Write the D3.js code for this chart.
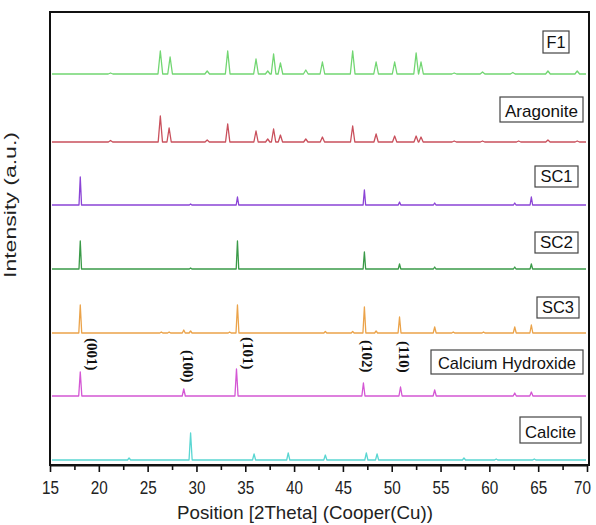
<!DOCTYPE html>
<html>
<head>
<meta charset="utf-8">
<title>XRD patterns</title>
<script src="https://d3js.org/d3.v7.min.js"></script>
<style>
  body { margin: 0; background: #fff; }
  svg text { font-family: "Liberation Sans", Arial, sans-serif; }
  .hkl { font-family: "Liberation Serif", "Times New Roman", serif !important; font-weight: bold; }
</style>
</head>
<body>
<div id="chart"></div>
<script>
// ---------------- data ----------------
// names, top to bottom
const patternNames = ["F1", "Aragonite", "SC1", "SC2", "SC3", "Calcium Hydroxide", "Calcite"];
// vertical offset of each pattern (a.u.)
const patternOffsets = [391, 323, 260, 196, 132, 69, 5];
// peaks: [2theta, intensity]
const peaksF1 = [[21.2, 1], [26.3, 23], [27.3, 17], [31.1, 3], [33.2, 23], [36.1, 15], [37.3, 3], [37.9, 20],
  [38.6, 11], [41.2, 4], [42.9, 12], [46.0, 23], [48.4, 12], [50.3, 12], [52.5, 21], [53.0, 12],
  [56.4, 1], [59.3, 2], [62.4, 1.5], [66.0, 3], [69.0, 3]];
const peaksAragonite = [[21.2, 1.5], [26.3, 26], [27.2, 14], [31.1, 2], [33.2, 18], [36.1, 11], [37.3, 3],
  [37.9, 13], [38.6, 7], [41.2, 3], [42.9, 5], [46.0, 16], [48.4, 8], [50.3, 6], [52.5, 6], [53.0, 5],
  [56.4, 1], [59.3, 1], [63.0, 1], [66.0, 2], [69.0, 1]];
const peaksSC1 = [[18.1, 28], [29.4, 1], [34.2, 8], [47.2, 15], [50.8, 3], [54.4, 2], [62.6, 2], [64.3, 8]];
const peaksSC2 = [[18.1, 28], [29.4, 1], [34.2, 28], [47.2, 17], [50.8, 5], [54.4, 2], [62.6, 2], [64.3, 5]];
const peaksSC3 = [[18.1, 28], [26.4, 1], [27.2, 1], [28.7, 3], [29.4, 2], [33.4, 1], [34.2, 28], [43.2, 1.5],
  [46.0, 1.5], [47.2, 26], [48.4, 2], [50.8, 16], [54.4, 6], [56.3, 1], [59.4, 1], [62.6, 6], [64.3, 8]];
const peaksCH = [[18.1, 24], [28.7, 7], [34.1, 27], [47.1, 13], [50.9, 9], [54.4, 6], [62.6, 3], [64.3, 4]];
const peaksCalcite = [[23.1, 2], [29.4, 27], [35.9, 6], [39.4, 7], [43.2, 5], [47.4, 7], [48.5, 6],
  [57.4, 2], [60.7, 1], [64.6, 1]];
const allPeaks = [peaksF1, peaksAragonite, peaksSC1, peaksSC2, peaksSC3, peaksCH, peaksCalcite];

// Miller indices on the calcium hydroxide pattern
const hklLabels = ["(001)", "(100)", "(101)", "(102)", "(110)"];
const hklAngles = [18.1, 28.7, 34.1, 47.1, 50.8];

const xTickValues = [15, 20, 25, 30, 35, 40, 45, 50, 55, 60, 65, 70];
const xMinorTicks = [17.5, 22.5, 27.5, 32.5, 37.5, 42.5, 47.5, 52.5, 57.5, 62.5, 67.5];

// ---------------- styling ----------------
const colors = ["#72d672", "#c9505c", "#8b44d6", "#3a9a48", "#eba34a", "#d457d4", "#5ad6d2"];
const halfWidth = [0.24, 0.22, 0.13, 0.13, 0.15, 0.16, 0.16];
const boxes = [
  {x0: 543, x1: 569, y0: 31, y1: 53, len: 19},
  {x0: 500, x1: 583, y0: 97, y1: 122, len: 73},
  {x0: 535, x1: 578, y0: 166, y1: 187, len: 32},
  {x0: 535, x1: 578, y0: 232, y1: 253, len: 33},
  {x0: 537, x1: 579, y0: 297, y1: 318, len: 32},
  {x0: 431, x1: 583, y0: 350, y1: 374, len: 138},
  {x0: 520, x1: 581, y0: 417, y1: 443, len: 51}
];
const hklDx = [5, -3, 5, -3, -3];
const hklTop = [338, 350, 337, 340, 341];

const W = 596, H = 525;
const svg = d3.select("#chart").append("svg")
  .attr("width", W).attr("height", H);

const x = d3.scaleLinear().domain([15, 70]).range([50, 587]);
const y = d3.scaleLinear().domain([0, 453]).range([465, 12]);

// frame
svg.append("rect")
  .attr("x", 50).attr("y", 12).attr("width", 539).attr("height", 453)
  .attr("fill", "none").attr("stroke", "#111").attr("stroke-width", 2);

// patterns
const line = d3.line().x(d => x(d[0])).y(d => y(d[1]));
allPeaks.forEach(function(peaks, i) {
  const off = patternOffsets[i];
  const w = halfWidth[i];
  const pts = [[15.2, off]];
  peaks.forEach(function(p) {
    pts.push([p[0] - w, off], [p[0], off + p[1]], [p[0] + w, off]);
  });
  pts.push([69.9, off]);
  svg.append("path")
    .attr("d", line(pts))
    .attr("fill", "none")
    .attr("stroke", colors[i])
    .attr("stroke-width", 1.3)
    .attr("stroke-linejoin", "round");
});

// labels in boxes
patternNames.forEach(function(name, i) {
  const b = boxes[i];
  svg.append("rect")
    .attr("x", b.x0).attr("y", b.y0)
    .attr("width", b.x1 - b.x0).attr("height", b.y1 - b.y0)
    .attr("fill", "#fff").attr("stroke", "#444").attr("stroke-width", 1.2);
  svg.append("text")
    .attr("x", (b.x0 + b.x1) / 2).attr("y", b.y1 - 5.5)
    .attr("text-anchor", "middle")
    .attr("font-size", 17)
    .attr("fill", "#111")
    .attr("textLength", b.len).attr("lengthAdjust", "spacingAndGlyphs")
    .text(name);
});

// hkl labels
hklLabels.forEach(function(t, i) {
  svg.append("text")
    .attr("class", "hkl")
    .attr("transform", "translate(" + (x(hklAngles[i]) + hklDx[i] + 2) + "," + hklTop[i] + ") rotate(90)")
    .attr("font-size", 15)
    .attr("fill", "#111")
    .text(t);
});

// x axis
const xAxis = d3.axisBottom(x).tickValues(xTickValues).tickSize(7).tickPadding(9).tickSizeOuter(0);
const gx = svg.append("g").attr("transform", "translate(0,465)").call(xAxis);
gx.select(".domain").attr("stroke", "#111").attr("stroke-width", 2);
gx.selectAll(".tick line").attr("stroke", "#111").attr("stroke-width", 1.6);
gx.selectAll(".tick text")
  .attr("font-size", 19).attr("fill", "#222")
  .attr("font-family", "Liberation Sans, Arial, sans-serif")
  .attr("textLength", 17).attr("lengthAdjust", "spacingAndGlyphs")
  .attr("x", d => d === 70 ? -5 : 0);

const gm = svg.append("g").attr("transform", "translate(0,465)")
  .call(d3.axisBottom(x).tickValues(xMinorTicks).tickSize(5).tickFormat("").tickSizeOuter(0));
gm.select(".domain").remove();
gm.selectAll(".tick line").attr("stroke", "#111").attr("stroke-width", 1.6);

// axis titles
svg.append("text")
  .attr("x", 305).attr("y", 519)
  .attr("text-anchor", "middle")
  .attr("font-size", 19).attr("fill", "#222")
  .attr("textLength", 256).attr("lengthAdjust", "spacingAndGlyphs")
  .text("Position [2Theta] (Cooper(Cu))");

svg.append("text")
  .attr("transform", "translate(16,205) rotate(-90)")
  .attr("text-anchor", "middle")
  .attr("font-size", 16).attr("fill", "#222")
  .attr("textLength", 146).attr("lengthAdjust", "spacingAndGlyphs")
  .text("Intensity (a.u.)");
</script>
</body>
</html>
